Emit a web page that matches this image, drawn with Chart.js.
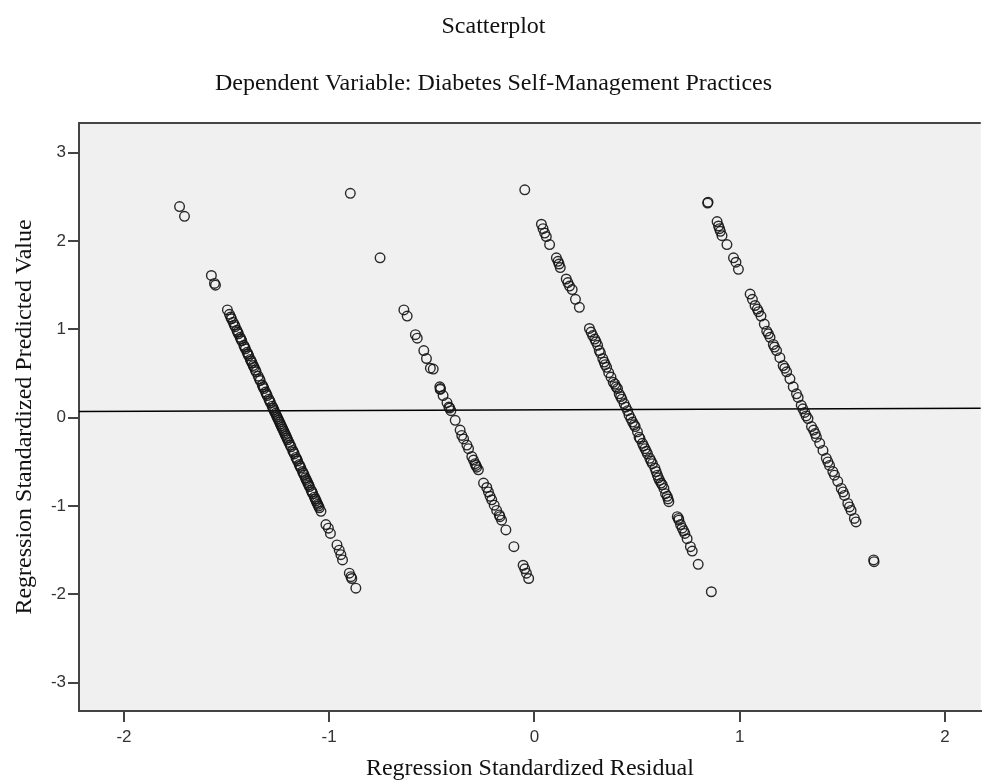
<!DOCTYPE html>
<html>
<head>
<meta charset="utf-8">
<title>Scatterplot</title>
<script src="https://cdn.jsdelivr.net/npm/chart.js@4.4.0/dist/chart.umd.min.js"></script>
<style>
  html, body { margin: 0; padding: 0; background: #ffffff; }
  #wrap { width: 987px; height: 784px; }
</style>
</head>
<body>
<div id="wrap"><canvas id="myChart" width="987" height="784"></canvas></div>
<script>
// residual (x) / predicted value (y), one band per value of the dependent variable
var band1X = [-1.729, -1.705, -1.574, -1.559, -1.554,
  -1.496, -1.486, -1.476, -1.468, -1.458, -1.450, -1.442, -1.434, -1.426, -1.416, -1.408, -1.400, -1.392, -1.384, -1.376,
  -1.366, -1.356, -1.346, -1.336, -1.326, -1.318, -1.310, -1.302, -1.294, -1.286, -1.278, -1.270, -1.262, -1.254, -1.246,
  -1.238, -1.230, -1.222, -1.214, -1.206, -1.196, -1.186, -1.178, -1.170, -1.162, -1.154, -1.146, -1.138, -1.130, -1.122,
  -1.112, -1.104, -1.096, -1.088, -1.080, -1.072, -1.064, -1.056, -1.048, -1.040,
  -1.480, -1.462, -1.446, -1.430, -1.412, -1.396, -1.380, -1.370, -1.360, -1.340, -1.322, -1.306, -1.290, -1.274, -1.266,
  -1.258, -1.250, -1.242, -1.234, -1.226, -1.218, -1.210, -1.202, -1.190, -1.174, -1.158, -1.142, -1.126, -1.116, -1.108,
  -1.100, -1.084, -1.068, -1.060, -1.052,
  -1.016, -1.004, -0.994, -0.962, -0.951, -0.943, -0.935, -0.902, -0.894, -0.890, -0.870];
var band1Y = [2.39, 2.28, 1.61, 1.52, 1.50,
  1.22, 1.17, 1.12, 1.08, 1.03, 0.99, 0.95, 0.91, 0.87, 0.82, 0.78, 0.74, 0.70, 0.66, 0.62,
  0.57, 0.52, 0.47, 0.42, 0.37, 0.33, 0.29, 0.25, 0.21, 0.17, 0.13, 0.09, 0.05, 0.01, -0.03,
  -0.07, -0.11, -0.15, -0.19, -0.23, -0.28, -0.33, -0.37, -0.41, -0.45, -0.49, -0.53, -0.57, -0.61, -0.65,
  -0.70, -0.74, -0.78, -0.82, -0.86, -0.90, -0.94, -0.98, -1.02, -1.06,
  1.14, 1.05, 0.97, 0.89, 0.80, 0.72, 0.64, 0.59, 0.54, 0.44, 0.35, 0.27, 0.19, 0.11, 0.07,
  0.03, -0.01, -0.05, -0.09, -0.13, -0.17, -0.21, -0.25, -0.31, -0.39, -0.47, -0.55, -0.63, -0.68, -0.72,
  -0.76, -0.84, -0.92, -0.96, -1.00,
  -1.21, -1.25, -1.31, -1.44, -1.50, -1.55, -1.61, -1.76, -1.80, -1.82, -1.93];

var band2X = [-0.897, -0.752, -0.636, -0.620, -0.580, -0.571, -0.539, -0.526, -0.507, -0.461, -0.459, -0.426,
  -0.413, -0.407, -0.386, -0.362, -0.354, -0.329, -0.321, -0.297, -0.289, -0.281, -0.273, -0.248,
  -0.224, -0.216, -0.208, -0.184, -0.171, -0.160, -0.139, -0.100, -0.055, -0.047, -0.039, -0.028,
  -0.345, -0.305, -0.232, -0.196, -0.445, -0.493, -0.417, -0.458, -0.285, -0.168];
var band2Y = [2.54, 1.81, 1.22, 1.15, 0.94, 0.90, 0.76, 0.67, 0.56, 0.35, 0.32, 0.17,
  0.11, 0.08, -0.03, -0.14, -0.20, -0.31, -0.35, -0.48, -0.52, -0.56, -0.59, -0.74,
  -0.84, -0.89, -0.93, -1.05, -1.10, -1.16, -1.27, -1.46, -1.67, -1.71, -1.76, -1.82,
  -0.24, -0.44, -0.79, -0.99, 0.25, 0.55, 0.12, 0.33, -0.54, -1.12];

var band3X = [-0.047, 0.034, 0.042, 0.050, 0.058, 0.074, 0.107, 0.115, 0.120, 0.126, 0.155, 0.163, 0.171, 0.184, 0.200,
  0.219, 0.268, 0.276, 0.284, 0.308, 0.316, 0.333, 0.340, 0.352, 0.362, 0.373, 0.384, 0.405, 0.413, 0.426,
  0.437, 0.454, 0.461, 0.478, 0.491, 0.502, 0.510, 0.526, 0.539, 0.551, 0.562, 0.575, 0.587, 0.599, 0.610,
  0.623, 0.631, 0.639, 0.647, 0.655, 0.696, 0.704, 0.712, 0.720, 0.733, 0.744, 0.760, 0.769, 0.798, 0.862,
  0.294, 0.300, 0.322, 0.345, 0.392, 0.398, 0.420, 0.445, 0.470, 0.486, 0.515, 0.532, 0.545, 0.568, 0.593,
  0.604, 0.617, 0.651, 0.702, 0.727];
var band3Y = [2.58, 2.19, 2.14, 2.09, 2.05, 1.96, 1.81, 1.77, 1.74, 1.70, 1.57, 1.53, 1.49, 1.45, 1.34,
  1.25, 1.01, 0.97, 0.93, 0.82, 0.76, 0.67, 0.63, 0.57, 0.51, 0.46, 0.40, 0.33, 0.27, 0.21,
  0.16, 0.08, 0.03, -0.05, -0.10, -0.16, -0.22, -0.29, -0.35, -0.41, -0.46, -0.52, -0.57, -0.65, -0.71,
  -0.76, -0.80, -0.86, -0.89, -0.95, -1.12, -1.16, -1.21, -1.25, -1.31, -1.37, -1.46, -1.51, -1.66, -1.97,
  0.89, 0.86, 0.73, 0.60, 0.38, 0.35, 0.24, 0.12, -0.01, -0.08, -0.24, -0.32, -0.38, -0.49, -0.61,
  -0.68, -0.74, -0.92, -1.14, -1.28];

var band4X = [0.844, 0.890, 0.897, 0.906, 0.914, 0.938, 0.970, 0.982, 0.994, 1.051, 1.062, 1.075, 1.104, 1.120,
  1.132, 1.148, 1.164, 1.180, 1.196, 1.212, 1.229, 1.245, 1.261, 1.277, 1.285, 1.317, 1.333, 1.350,
  1.374, 1.390, 1.406, 1.422, 1.438, 1.454, 1.478, 1.495, 1.511, 1.527, 1.543, 1.559, 1.567, 1.653,
  1.086, 1.092, 1.140, 1.170, 1.220, 1.300, 1.308, 1.360, 1.368, 1.430, 1.462, 1.504, 1.535, 0.846,
  1.655, 0.902, 1.324];
var band4Y = [2.43, 2.22, 2.17, 2.11, 2.06, 1.96, 1.81, 1.76, 1.68, 1.40, 1.34, 1.27, 1.15, 1.06,
  0.98, 0.91, 0.83, 0.76, 0.68, 0.59, 0.52, 0.44, 0.35, 0.27, 0.23, 0.06, -0.01, -0.10,
  -0.22, -0.29, -0.37, -0.46, -0.54, -0.61, -0.72, -0.80, -0.88, -0.97, -1.05, -1.14, -1.18, -1.61,
  1.23, 1.20, 0.95, 0.80, 0.56, 0.14, 0.10, -0.14, -0.18, -0.50, -0.65, -0.84, -1.01, 2.44,
  -1.63, 2.14, 0.02];

// fit line (total)
var fitLineX = [-2.219, 2.175];
var fitLineY = [0.07, 0.106];

var xTickValues = [-2, -1, 0, 1, 2];
var yTickValues = [-3, -2, -1, 0, 1, 2, 3];
var xMin = -2.219, xMax = 2.175;
var yMin = -3.32, yMax = 3.336;

function toPoints(xs, ys) {
  var pts = [];
  for (var i = 0; i < xs.length; i++) {
    pts.push({ x: xs[i], y: ys[i] });
  }
  return pts;
}

function bandDataset(xs, ys) {
  return {
    type: 'scatter',
    data: toPoints(xs, ys),
    pointStyle: 'circle',
    pointRadius: 4.8,
    pointBorderWidth: 1.4,
    pointBorderColor: 'rgba(20,20,20,0.9)',
    pointBackgroundColor: 'rgba(0,0,0,0)'
  };
}

// grey plot background and the top frame line
var plotFrame = {
  id: 'plotFrame',
  beforeDraw: function(chart) {
    var a = chart.chartArea;
    var ctx = chart.ctx;
    ctx.save();
    ctx.fillStyle = '#f0f0f0';
    ctx.fillRect(a.left, a.top, a.right - a.left, a.bottom - a.top);
    ctx.restore();
  },
  afterDraw: function(chart) {
    var a = chart.chartArea;
    var ctx = chart.ctx;
    ctx.save();
    ctx.strokeStyle = '#444444';
    ctx.lineWidth = 2;
    ctx.beginPath();
    ctx.moveTo(a.left - 1, a.top);
    ctx.lineTo(a.right, a.top);
    ctx.stroke();
    ctx.restore();
  }
};

var serif = 'Liberation Serif';
var sans = 'Liberation Sans';

var ctx = document.getElementById('myChart').getContext('2d');
var myChart = new Chart(ctx, {
  type: 'scatter',
  data: {
    datasets: [
      bandDataset(band1X, band1Y),
      bandDataset(band2X, band2Y),
      bandDataset(band3X, band3Y),
      bandDataset(band4X, band4Y),
      {
        type: 'line',
        data: toPoints(fitLineX, fitLineY),
        borderColor: '#000000',
        borderWidth: 1.5,
        pointRadius: 0,
        fill: false
      }
    ]
  },
  options: {
    responsive: false,
    animation: false,
    devicePixelRatio: 1,
    layout: { padding: 0 },
    plugins: {
      legend: { display: false },
      tooltip: { enabled: false },
      title: {
        display: true,
        text: 'Scatterplot',
        color: '#111111',
        font: { family: serif, size: 24, weight: 'normal', lineHeight: 1.2 },
        padding: { top: 12, bottom: 29 }
      },
      subtitle: {
        display: true,
        text: 'Dependent Variable: Diabetes Self-Management Practices',
        color: '#111111',
        font: { family: serif, size: 24, weight: 'normal', lineHeight: 1.2 },
        padding: { top: 0, bottom: 24.4 }
      }
    },
    scales: {
      x: {
        type: 'linear',
        position: 'bottom',
        min: xMin,
        max: xMax,
        afterBuildTicks: function(axis) {
          axis.ticks = xTickValues.map(function(v) { return { value: v }; });
        },
        afterFit: function(axis) { axis.height = 73; },
        grid: { drawOnChartArea: false, drawTicks: true, tickLength: 11, color: '#444444', lineWidth: 2 },
        border: { display: true, color: '#444444', width: 2 },
        ticks: { color: '#333333', font: { family: sans, size: 17 }, padding: 5, maxRotation: 0 },
        title: {
          display: true,
          text: 'Regression Standardized Residual',
          color: '#111111',
          font: { family: serif, size: 24, lineHeight: 1.2 },
          padding: { top: 0, bottom: 1 }
        }
      },
      y: {
        type: 'linear',
        position: 'left',
        min: yMin,
        max: yMax,
        afterBuildTicks: function(axis) {
          axis.ticks = yTickValues.map(function(v) { return { value: v }; });
        },
        afterFit: function(axis) { axis.width = 79; },
        grid: { drawOnChartArea: false, drawTicks: true, tickLength: 11, color: '#444444', lineWidth: 2 },
        border: { display: true, color: '#444444', width: 2 },
        ticks: { color: '#333333', font: { family: sans, size: 17 }, padding: 2 },
        title: {
          display: true,
          text: 'Regression Standardized Predicted Value',
          color: '#111111',
          font: { family: serif, size: 24, lineHeight: 1.2 },
          padding: { top: 10, bottom: 0 }
        }
      }
    }
  },
  plugins: [plotFrame]
});
</script>
</body>
</html>
